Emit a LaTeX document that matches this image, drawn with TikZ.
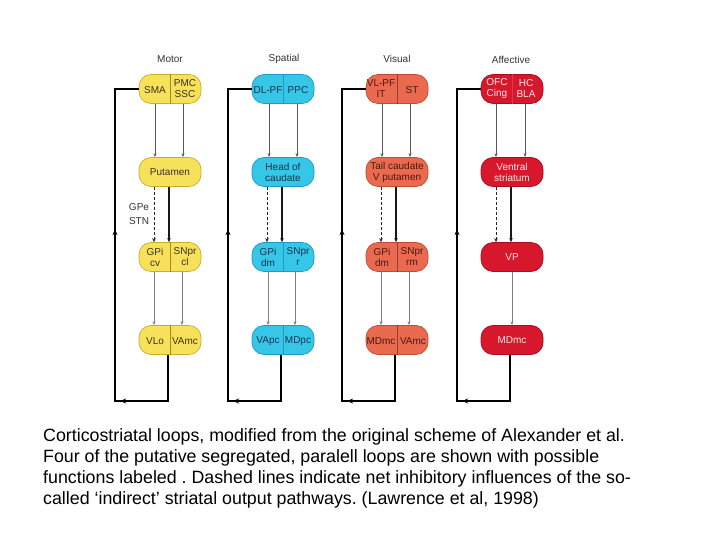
\documentclass[tikz,border=0pt]{standalone}
\usepackage{fontspec}
\setmainfont{Liberation Sans}
\usetikzlibrary{arrows.meta,decorations.markings}
\definecolor{yfill}{HTML}{F7E15B}\definecolor{ydraw}{HTML}{C9AE2A}\definecolor{ytext}{HTML}{3A3320}
\definecolor{cfill}{HTML}{35C6E8}\definecolor{cdraw}{HTML}{1E9BBF}\definecolor{ctext}{HTML}{14364A}
\definecolor{sfill}{HTML}{EA6A50}\definecolor{sdraw}{HTML}{C04A36}\definecolor{stext}{HTML}{4A1A10}
\definecolor{rfill}{HTML}{D6172C}\definecolor{rdraw}{HTML}{A80E1E}\definecolor{rtext}{HTML}{FFE8E8}
\frenchspacing
\begin{document}
\begin{tikzpicture}[x=1pt,y=-1pt,
  region/.style 2 args={draw=#2, fill=#1, rounded corners=12pt, minimum width=62pt, minimum height=29pt, inner sep=0pt, line width=0.7pt, align=center, font=\fontsize{10}{11}\selectfont},
  ybox/.style={region={yfill}{ydraw}, text=ytext},
  cbox/.style={region={cfill}{cdraw}, text=ctext},
  sbox/.style={region={sfill}{sdraw}, text=stext},
  rbox/.style={region={rfill}{rdraw}, text=rtext},
  lab/.style={align=center, inner sep=0pt, font=\fontsize{10}{11}\selectfont},
  divider/.style={line width=0.7pt},
  head/.style={font=\fontsize{10}{12}\selectfont, text=black!80, inner sep=0pt},
  ctxarr/.style={draw=black!65, line width=0.8pt, -{Stealth[length=4pt,width=3pt]}},
  thalarr/.style={draw=black!50, line width=0.6pt, -{Stealth[length=4pt,width=3pt]}},
  solidarr/.style={draw=black!90, line width=1.2pt, -{Stealth[length=4pt,width=3.5pt]}},
  dasharr/.style={draw=black!85, line width=1pt, dash pattern=on 3pt off 2pt, -{Stealth[length=4pt,width=3.5pt]}},
  loopline/.style={draw=black, line width=1.6pt,
    postaction={decorate},
    decoration={markings,
      mark=at position 94pt with {\arrow{Stealth[length=6pt,width=5pt]}},
      mark=at position 271pt with {\arrow{Stealth[length=6pt,width=5pt]}}}},
  caption/.style={anchor=base west, inner sep=0pt, font=\fontsize{17.8}{20}\selectfont}
]
\useasboundingbox (0,0) rectangle (720,540);
\fill[white] (0,0) rectangle (720,540);

% headers
\node[head] (hm) at (170,59) {Motor};
\node[head] (hs) at (284,59) {Spatial};
\node[head] (hv) at (397,59) {Visual};
\node[head] (ha) at (511,60) {Affective};

% ---------- Motor ----------
\node[ybox] (m1) at (170,89) {};
\node[ybox] (m2) at (170,172) {Putamen};
\node[ybox] (m3) at (170,257) {};
\node[ybox] (m4) at (170,340) {};
\foreach \n in {m1,m3,m4} \draw[divider, draw=ydraw!80!black] (\n.north) -- (\n.south);
\node[lab, text=ytext] (m1l) at (155,90) {SMA};
\node[lab, text=ytext] (m1r) at (185,89) {PMC\\SSC};
\node[lab, text=ytext] (m3l) at (155,257) {GPi\\cv};
\node[lab, text=ytext] (m3r) at (185,257) {SNpr\\cl};
\node[lab, text=ytext] (m4l) at (155,341) {VLo};
\node[lab, text=ytext] (m4r) at (185,341) {VAmc};
\node[head] (gpe) at (139,207) {GPe};
\node[head] (stn) at (139,221) {STN};

% ---------- Spatial ----------
\node[cbox] (s1) at (283,89) {};
\node[cbox] (s2) at (283,172) {Head of\\caudate};
\node[cbox] (s3) at (283,257) {};
\node[cbox] (s4) at (283,340) {};
\foreach \n in {s1,s3,s4} \draw[divider, draw=cdraw] (\n.north) -- (\n.south);
\node[lab, text=ctext] (s1l) at (268,90) {DL-PF};
\node[lab, text=ctext] (s1r) at (298,90) {PPC};
\node[lab, text=ctext] (s3l) at (268,257) {GPi\\dm};
\node[lab, text=ctext] (s3r) at (298,257) {SNpr\\r};
\node[lab, text=ctext] (s4l) at (268,341) {VApc};
\node[lab, text=ctext] (s4r) at (298,341) {MDpc};

% ---------- Visual ----------
\node[sbox] (v1) at (397,89) {};
\node[sbox] (v2) at (397,172) {Tail caudate\\V putamen};
\node[sbox] (v3) at (397,257) {};
\node[sbox] (v4) at (397,340) {};
\foreach \n in {v1,v3,v4} \draw[divider, draw=sdraw!80!black] (\n.north) -- (\n.south);
\node[lab, text=stext] (v1l) at (381,89) {VL-PF\\IT};
\node[lab, text=stext] (v1r) at (412,90) {ST};
\node[lab, text=stext] (v3l) at (382,257) {GPi\\dm};
\node[lab, text=stext] (v3r) at (412,257) {SNpr\\rm};
\node[lab, text=stext] (v4l) at (381,341) {MDmc};
\node[lab, text=stext] (v4r) at (413,341) {VAmc};

% ---------- Affective ----------
\node[rbox] (a1) at (512,89) {};
\node[rbox] (a2) at (512,172) {Ventral\\striatum};
\node[rbox] (a3) at (512,257) {VP};
\node[rbox] (a4) at (512,340) {MDmc};
\draw[divider, draw=rfill!85!white] (a1.north) -- (a1.south);
\node[lab, text=rtext] (a1l) at (497,89) {OFC\\Cing};
\node[lab, text=rtext] (a1r) at (526,89) {HC\\BLA};

% ---------- connectors ----------
\foreach \c/\dl/\dr/\tl/\tr in {m/-15/13/-16/12, s/-14/14/-15/12, v/-15/13/-16/12}{
  \draw[ctxarr] ([xshift=\dl]\c1.south) -- ([xshift=\dl]\c2.north);
  \draw[ctxarr] ([xshift=\dr]\c1.south) -- ([xshift=\dr]\c2.north);
  \draw[dasharr] ([xshift=-16]\c2.south) -- ([xshift=-16]\c3.north);
  \draw[solidarr] ([xshift=-1]\c2.south) -- ([xshift=-1]\c3.north);
  \draw[thalarr] ([xshift=\tl]\c3.south) -- ([xshift=\tl]\c4.north);
  \draw[thalarr] ([xshift=\tr]\c3.south) -- ([xshift=\tr]\c4.north);
}
\draw[ctxarr] ([xshift=-16]a1.south) -- ([xshift=-16]a2.north);
\draw[ctxarr] ([xshift=13]a1.south) -- ([xshift=13]a2.north);
\draw[dasharr] ([xshift=-16]a2.south) -- ([xshift=-16]a3.north);
\draw[solidarr] ([xshift=-1]a2.south) -- ([xshift=-1]a3.north);
\draw[thalarr] (a3.south) -- (a4.north);

% ---------- loops ----------
\foreach \c/\x/\lx in {m/170/115, s/283/228, v/397/342, a/512/457}{
  \coordinate (\c br) at (\x-2,401);
  \coordinate (\c bl) at (\lx,401);
  \coordinate (\c tl) at (\lx,89);
  \draw[loopline] ([xshift=-2]\c4.south) -- (\c br) -- (\c bl) -- (\c tl) -- (\c1.west);
}

% ---------- caption ----------
\node[caption] (cap1) at (43,441) {Corticostriatal loops, modified from the original scheme of Alexander et al.};
\node[caption] (cap2) at (43,462) {Four of the putative segregated, paralell loops are shown with possible};
\node[caption] (cap3) at (43,483) {functions labeled . Dashed lines indicate net inhibitory influences of the so-};
\node[caption] (cap4) at (43,504) {called ‘indirect’ striatal output pathways. (Lawrence et al, 1998)};
\end{tikzpicture}
\end{document}
